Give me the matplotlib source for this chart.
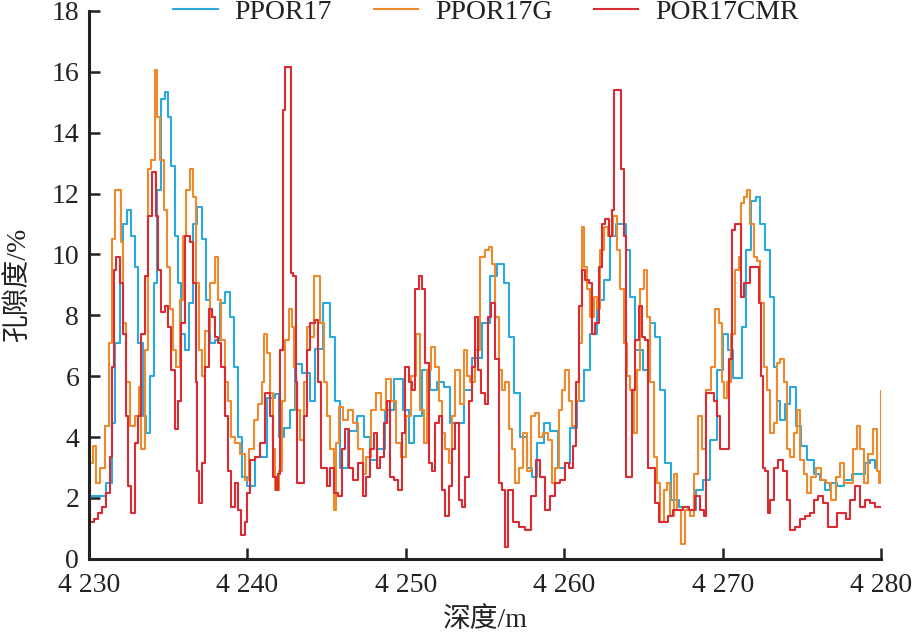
import matplotlib
matplotlib.use("Agg")
import matplotlib.pyplot as plt

plt.rcParams['font.family'] = ['Liberation Serif', 'Noto Sans CJK SC']

# tick labels / axis text
x_ticks = [4230, 4240, 4250, 4260, 4270, 4280]
x_tick_labels = ['4 230', '4 240', '4 250', '4 260', '4 270', '4 280']
y_ticks = [0, 2, 4, 6, 8, 10, 12, 14, 16, 18]
series_names = ['PPOR17', 'PPOR17G', 'POR17CMR']

# PPOR17 (blue)
blue_depth = [4230.00, 4230.88, 4231.33, 4231.52, 4231.83, 4232.08, 4232.27, 4232.53, 4232.78,
              4233.03, 4233.22, 4233.54, 4233.72, 4233.98, 4234.17, 4234.48, 4234.67, 4234.92,
              4235.11, 4235.30, 4235.56, 4235.74, 4235.93, 4236.19, 4236.38, 4236.69, 4237.01,
              4237.32, 4237.51, 4237.77, 4238.08, 4238.40, 4238.71, 4239.03, 4239.22, 4239.53,
              4239.85, 4240.10, 4240.80, 4241.62, 4241.87, 4242.18, 4242.50, 4242.88, 4243.19,
              4243.76, 4244.08, 4244.46, 4245.03, 4245.40, 4245.66, 4246.04, 4246.67, 4247.11,
              4247.55, 4247.93, 4248.37, 4249.00, 4249.51, 4250.08, 4250.27, 4250.71, 4251.34,
              4251.72, 4252.16, 4252.60, 4252.98, 4253.42, 4253.86, 4254.49, 4255.13, 4255.51,
              4255.95, 4256.39, 4256.58, 4257.02, 4257.40, 4257.84, 4258.03, 4258.47, 4258.91,
              4259.29, 4259.92, 4260.18, 4260.56, 4261.00, 4261.44, 4261.82, 4262.26, 4262.70,
              4263.08, 4263.40, 4263.71, 4264.03, 4264.28, 4264.66, 4265.23, 4265.54, 4265.92,
              4266.17, 4266.49, 4266.99, 4267.50, 4268.13, 4268.45, 4269.02, 4269.39, 4269.84,
              4270.15, 4270.47, 4270.78, 4271.10, 4271.29, 4271.60, 4271.92, 4272.23, 4272.49,
              4272.80, 4273.12, 4273.31, 4273.50, 4273.75, 4274.07, 4274.44, 4274.76, 4275.08,
              4275.52, 4275.96, 4276.34, 4276.59, 4276.97, 4277.41, 4277.85, 4278.48, 4278.86,
              4279.12, 4279.49, 4279.75]
blue_por = [2.05, 2.05, 2.5, 4.45, 7.1, 9.05, 11.0, 11.45, 10.6,
            9.6, 7.1, 4.7, 4.15, 6.0, 9.05, 12.1, 15.1, 15.35,
            14.5, 12.9, 10.6, 9.05, 7.4, 6.85, 8.4, 11.0, 11.55,
            10.5, 8.5, 7.1, 7.2, 8.4, 8.75, 7.95, 6.3, 4.0,
            2.7, 2.4, 3.35, 5.3, 5.4, 4.0, 4.3, 4.9, 6.4,
            6.1, 5.2, 6.9, 8.4, 7.3, 5.2, 3.0, 4.2, 4.7,
            4.0, 3.25, 3.6, 4.9, 5.9, 4.9, 3.8, 4.7, 6.2,
            5.55, 5.8, 5.65, 4.45, 4.45, 5.55, 6.6, 7.75, 9.3,
            9.7, 9.05, 7.3, 5.45, 4.0, 3.0, 2.7, 3.8, 4.45,
            4.2, 3.0, 3.15, 4.3, 5.2, 6.2, 7.4, 8.5, 9.15,
            10.6, 11.0, 11.0, 10.15, 8.6, 6.85, 6.2, 7.75, 7.3,
            5.55, 3.15, 1.95, 1.7, 1.6, 2.25, 2.6, 3.9, 6.2,
            7.4, 6.85, 5.95, 5.95, 7.6, 10.15, 11.75, 11.9, 11.0,
            10.15, 8.6, 6.3, 5.2, 4.55, 5.1, 5.65, 4.35, 3.7,
            3.25, 2.8, 2.6, 2.25, 2.5, 2.4, 2.6, 2.8, 2.8,
            3.15, 3.25, 3.0]

# PPOR17G (orange)
orange_depth = [4230.00, 4230.19, 4230.38, 4230.57, 4230.88, 4231.14, 4231.33, 4231.52, 4231.77,
                4231.96, 4232.08, 4232.27, 4232.46, 4232.78, 4233.09, 4233.22, 4233.41, 4233.66,
                4233.85, 4234.04, 4234.29, 4234.36, 4234.61, 4234.80, 4234.99, 4235.24, 4235.43,
                4235.62, 4235.87, 4236.06, 4236.25, 4236.50, 4236.69, 4236.82, 4237.01, 4237.20,
                4237.45, 4237.77, 4238.08, 4238.27, 4238.46, 4238.71, 4238.90, 4239.09, 4239.34,
                4239.72, 4239.97, 4240.29, 4240.48, 4240.80, 4240.98, 4241.17, 4241.30, 4241.55,
                4241.62, 4241.87, 4242.06, 4242.25, 4242.50, 4242.69, 4242.88, 4243.00, 4243.19,
                4243.45, 4243.64, 4243.83, 4244.08, 4244.27, 4244.46, 4244.71, 4244.90, 4245.09,
                4245.34, 4245.53, 4245.66, 4245.85, 4246.16, 4246.48, 4246.79, 4247.11, 4247.42,
                4247.61, 4247.93, 4248.24, 4248.56, 4248.88, 4249.19, 4249.51, 4249.82, 4250.14,
                4250.45, 4250.77, 4251.02, 4251.21, 4251.40, 4251.72, 4251.97, 4252.16, 4252.35,
                4252.60, 4252.79, 4252.98, 4253.23, 4253.55, 4253.74, 4253.93, 4254.18, 4254.49,
                4254.81, 4255.13, 4255.32, 4255.51, 4255.76, 4255.95, 4256.14, 4256.39, 4256.58,
                4256.77, 4257.02, 4257.21, 4257.52, 4257.71, 4258.03, 4258.28, 4258.47, 4258.79,
                4259.10, 4259.29, 4259.54, 4259.73, 4259.92, 4260.18, 4260.37, 4260.56, 4260.87,
                4261.00, 4261.19, 4261.31, 4261.50, 4261.75, 4261.94, 4262.13, 4262.38, 4262.57,
                4262.89, 4263.21, 4263.40, 4263.65, 4263.84, 4264.03, 4264.28, 4264.47, 4264.66,
                4264.91, 4265.16, 4265.29, 4265.54, 4265.73, 4265.92, 4266.17, 4266.36, 4266.55,
                4266.80, 4266.99, 4267.18, 4267.50, 4267.75, 4268.07, 4268.26, 4268.57, 4268.76,
                4269.08, 4269.39, 4269.65, 4269.84, 4270.02, 4270.15, 4270.34, 4270.65, 4270.91,
                4271.10, 4271.22, 4271.41, 4271.60, 4271.85, 4272.04, 4272.23, 4272.49, 4272.67,
                4272.86, 4273.12, 4273.31, 4273.50, 4273.75, 4273.94, 4274.13, 4274.38, 4274.57,
                4274.76, 4275.01, 4275.20, 4275.39, 4275.71, 4276.02, 4276.34, 4276.65, 4276.97,
                4277.28, 4277.54, 4277.72, 4278.04, 4278.36, 4278.55, 4278.80, 4278.99, 4279.31,
                4279.62, 4279.81, 4279.93, 4280.00]
orange_por = [1.8, 3.15, 3.7, 2.5, 3.0, 4.35, 7.1, 10.5, 12.1,
              12.1, 10.4, 7.75, 5.8, 4.35, 4.7, 5.65, 3.6, 6.85,
              12.8, 13.1, 16.05, 14.5, 13.1, 11.45, 9.6, 8.2, 6.85,
              6.3, 8.5, 10.6, 12.1, 12.8, 11.9, 9.05, 6.85, 6.0,
              7.5, 9.05, 9.9, 8.5, 7.2, 5.8, 5.2, 4.0, 3.8,
              3.45, 2.6, 3.6, 4.55, 5.1, 5.8, 7.4, 6.75, 5.45,
              3.6, 2.25, 2.9, 5.2, 7.2, 8.2, 7.6, 6.3, 4.9,
              3.9, 5.8, 7.6, 7.3, 9.3, 9.3, 7.75, 5.8, 4.7,
              3.6, 1.6, 3.8, 5.0, 4.55, 4.9, 4.45, 3.6, 2.8,
              3.35, 4.9, 5.45, 4.9, 5.9, 5.2, 3.8, 3.35, 4.7,
              6.0, 7.4, 4.9, 3.8, 6.2, 6.95, 6.3, 5.2, 4.15,
              3.6, 3.15, 4.7, 6.2, 5.1, 6.85, 6.0, 5.8, 6.85,
              9.9, 10.15, 10.25, 9.7, 7.95, 6.2, 5.55, 5.8, 4.25,
              3.6, 2.5, 3.0, 4.15, 2.9, 4.7, 4.8, 4.0, 4.15,
              3.9, 2.5, 3.0, 4.9, 5.55, 6.2, 5.2, 4.35, 5.2,
              7.1, 10.9, 9.6, 8.85, 7.95, 8.6, 8.2, 10.15, 10.9,
              10.6, 11.25, 10.15, 8.85, 7.1, 6.0, 5.55, 4.15, 6.2,
              8.85, 9.5, 7.95, 5.8, 3.35, 2.5, 1.2, 2.25, 2.5,
              1.4, 2.8, 1.6, 0.5, 1.6, 1.4, 2.8, 4.7, 3.6,
              5.55, 6.3, 8.2, 7.75, 5.8, 5.3, 5.8, 7.4, 9.5,
              9.9, 11.7, 11.9, 12.1, 11.0, 9.9, 9.8, 8.4, 6.3,
              5.55, 4.15, 4.45, 6.45, 6.55, 5.8, 3.6, 3.35, 4.15,
              4.9, 3.25, 2.8, 2.15, 2.7, 3.0, 2.6, 2.5, 1.95,
              2.7, 3.15, 2.5, 2.5, 3.6, 4.35, 3.6, 2.5, 3.45,
              4.25, 2.9, 2.5, 5.5]

# POR17CMR (red)
red_depth = [4230.00, 4230.19, 4230.51, 4230.69, 4231.01, 4231.20, 4231.45, 4231.52, 4231.64,
             4231.83, 4232.08, 4232.27, 4232.40, 4232.59, 4232.78, 4233.03, 4233.22, 4233.41,
             4233.66, 4233.85, 4234.17, 4234.29, 4234.48, 4234.67, 4234.92, 4235.11, 4235.30,
             4235.56, 4235.74, 4235.93, 4236.25, 4236.50, 4236.69, 4236.82, 4236.88, 4237.01,
             4237.20, 4237.45, 4237.64, 4237.83, 4238.08, 4238.27, 4238.46, 4238.71, 4238.90,
             4239.09, 4239.34, 4239.53, 4239.72, 4239.97, 4240.04, 4240.35, 4240.67, 4240.98,
             4241.30, 4241.55, 4241.74, 4241.87, 4241.99, 4242.18, 4242.25, 4242.44, 4242.69,
             4242.75, 4243.00, 4243.13, 4243.19, 4243.45, 4243.64, 4243.83, 4244.08, 4244.39,
             4244.58, 4244.71, 4244.90, 4245.09, 4245.34, 4245.53, 4245.85, 4246.04, 4246.29,
             4246.48, 4246.79, 4247.11, 4247.42, 4247.61, 4247.87, 4248.06, 4248.24, 4248.50,
             4248.69, 4248.88, 4249.13, 4249.32, 4249.63, 4249.82, 4250.08, 4250.27, 4250.45,
             4250.71, 4250.90, 4251.09, 4251.34, 4251.53, 4251.72, 4251.97, 4252.16, 4252.35,
             4252.60, 4252.79, 4252.98, 4253.23, 4253.42, 4253.61, 4253.86, 4254.05, 4254.24,
             4254.43, 4254.62, 4254.87, 4255.06, 4255.25, 4255.51, 4255.76, 4255.95, 4256.14,
             4256.32, 4256.58, 4256.89, 4257.33, 4257.71, 4258.03, 4258.34, 4258.60, 4258.91,
             4259.23, 4259.54, 4259.86, 4260.18, 4260.37, 4260.68, 4260.81, 4261.00, 4261.19,
             4261.44, 4261.63, 4261.82, 4262.07, 4262.26, 4262.45, 4262.70, 4262.89, 4263.08,
             4263.21, 4263.52, 4263.65, 4263.84, 4263.96, 4264.15, 4264.34, 4264.60, 4264.78,
             4264.97, 4265.23, 4265.35, 4265.60, 4265.86, 4266.05, 4266.36, 4266.68, 4266.99,
             4267.31, 4267.62, 4268.07, 4268.38, 4268.70, 4268.89, 4269.02, 4269.33, 4269.52,
             4269.71, 4269.96, 4270.34, 4270.47, 4270.65, 4270.91, 4271.10, 4271.22, 4271.41,
             4271.60, 4271.85, 4272.17, 4272.36, 4272.49, 4272.55, 4272.80, 4272.86, 4273.12,
             4273.31, 4273.62, 4273.94, 4274.13, 4274.38, 4274.70, 4275.01, 4275.33, 4275.64,
             4275.83, 4276.15, 4276.46, 4276.78, 4277.09, 4277.28, 4277.60, 4277.91, 4278.17,
             4278.48, 4278.80, 4279.12, 4279.43, 4279.75, 4279.93]
red_por = [1.6, 1.2, 1.3, 1.5, 1.7, 2.15, 3.35, 6.3, 9.5,
           9.9, 9.05, 7.4, 4.7, 2.4, 1.5, 3.8, 4.7, 7.4,
           9.3, 11.25, 12.7, 11.25, 9.5, 8.1, 8.3, 7.6, 6.2,
           4.25, 5.2, 7.75, 10.6, 10.4, 9.05, 5.8, 2.9, 1.85,
           3.15, 6.3, 8.2, 7.95, 7.3, 7.1, 6.3, 4.7, 2.9,
           1.7, 2.5, 1.6, 0.8, 1.2, 2.15, 3.25, 3.35, 3.8,
           5.45, 4.7, 2.7, 2.25, 2.8, 6.85, 14.75, 16.15, 16.15,
           9.4, 9.3, 5.8, 2.5, 2.5, 4.7, 6.85, 7.75, 7.85,
           5.8, 3.0, 3.0, 2.4, 3.0, 2.15, 2.05, 3.6, 4.25,
           3.0, 2.6, 3.15, 2.05, 2.7, 3.6, 4.15, 3.0, 3.35,
           4.45, 5.2, 2.7, 2.6, 2.25, 4.15, 6.3, 5.8, 5.55,
           8.85, 9.3, 8.85, 6.45, 3.15, 2.9, 4.45, 4.7, 2.25,
           1.4, 2.4, 3.6, 4.45, 1.95, 1.7, 2.7, 5.2, 6.3,
           7.95, 6.2, 5.45, 5.1, 7.95, 8.4, 6.55, 2.5, 2.25,
           0.4, 2.25, 1.2, 1.05, 0.95, 2.05, 3.25, 2.7, 1.6,
           2.05, 2.5, 2.6, 3.15, 3.0, 3.7, 5.8, 8.3, 9.5,
           9.15, 9.05, 7.4, 7.75, 9.6, 11.0, 11.15, 10.6, 11.45,
           15.4, 15.4, 12.8, 10.6, 2.7, 2.7, 5.55, 7.2, 8.3,
           7.3, 7.2, 3.0, 3.0, 1.85, 1.2, 1.2, 1.4, 1.6,
           1.6, 1.7, 1.6, 2.05, 1.6, 1.4, 5.45, 5.45, 5.2,
           4.7, 3.6, 3.6, 6.55, 10.8, 11.0, 11.0, 8.6, 9.05,
           9.05, 9.6, 9.6, 8.4, 6.0, 3.0, 2.9, 1.5, 1.95,
           3.0, 3.25, 2.9, 1.95, 0.95, 1.05, 1.3, 1.4, 1.5,
           1.95, 2.05, 1.85, 1.05, 1.05, 1.5, 1.5, 1.3, 1.95,
           2.4, 1.7, 1.95, 1.85, 1.7, 1.7]

colors = ['#2aa9dc', '#ee8a2c', '#dc2a33']

fig = plt.figure(figsize=(9.17, 6.38), dpi=100)
ax = fig.add_axes([0.097, 0.124, 0.864, 0.859])

ax.plot(blue_depth, blue_por, color=colors[0], lw=1.5, drawstyle='steps-mid', label=series_names[0])
ax.plot(orange_depth, orange_por, color=colors[1], lw=1.5, drawstyle='steps-mid', label=series_names[1])
ax.plot(red_depth, red_por, color=colors[2], lw=1.5, drawstyle='steps-mid', label=series_names[2])

ax.set_xlim(4230, 4280)
ax.set_ylim(0, 18)
ax.set_xticks(x_ticks)
ax.set_xticklabels(x_tick_labels)
ax.set_yticks(y_ticks)

for s in ['top', 'right']:
    ax.spines[s].set_visible(False)
for s in ['left', 'bottom']:
    ax.spines[s].set_linewidth(2.2)
    ax.spines[s].set_color('#222222')
ax.tick_params(direction='in', length=8, width=1.8, color='#222222',
               labelsize=20, labelcolor='#222222')
ax.tick_params(axis='x', pad=10)
ax.tick_params(axis='y', pad=7)

ax.set_xlabel('深度/m', fontsize=20, color='#222222', labelpad=7)
ax.set_ylabel('孔隙度/%', fontsize=20, color='#222222', labelpad=15)

fig.legend(loc='center', bbox_to_anchor=(0.53, 0.981), ncol=3, frameon=False,
           fontsize=20, handlelength=1.6, handletextpad=0.6, columnspacing=1.5,
           labelcolor='#222222')

fig.savefig('out.png', dpi=100)
